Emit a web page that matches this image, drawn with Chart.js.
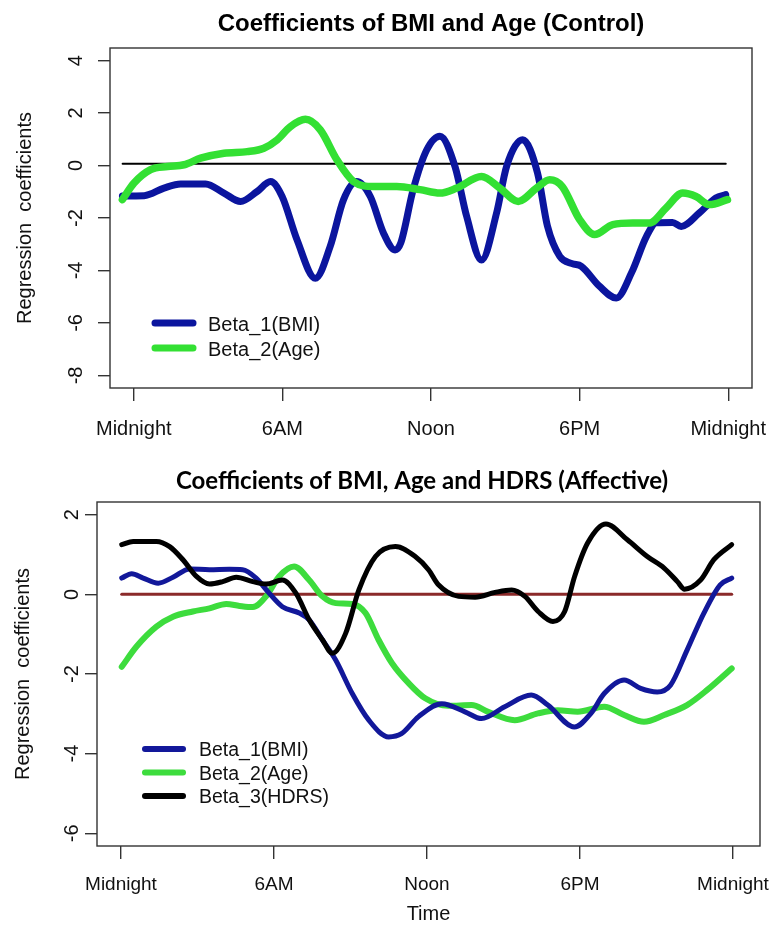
<!DOCTYPE html>
<html><head><meta charset="utf-8">
<script src="https://cdn.jsdelivr.net/npm/chart.js@4.4.1/dist/chart.umd.min.js"></script>
<style>
html,body{margin:0;padding:0;background:#fff;width:769px;height:926px;overflow:hidden}
canvas{position:absolute;left:0}
#c1{top:0}
#c2{top:460px}
</style>
</head><body>
<canvas id="c1" width="769" height="460"></canvas>
<canvas id="c2" width="769" height="466"></canvas>
<script>
// ---------- data ----------
const tickHours = [0, 6, 12, 18, 24];
const tickLabels = ['Midnight', '6AM', 'Noon', '6PM', 'Midnight'];

const ctrlTitle = 'Coefficients of BMI and Age (Control)';
const ctrlYTicks = [-8, -6, -4, -2, 0, 2, 4];
const ctrlLegend = ['Beta_1(BMI)', 'Beta_2(Age)'];

const ctrlBmiHours = [-0.46,0.42,1.22,1.89,2.9,3.64,4.31,4.98,5.52,5.99,6.59,7.33,7.93,8.47,9.0,9.55,10.08,10.55,10.78,11.28,11.83,12.36,12.97,13.44,14.04,14.65,15.05,15.7,16.3,16.7,17.2,17.7,18.07,18.8,19.48,20.1,20.7,21.1,21.75,22.1,22.83,23.5,23.9];
const ctrlBmi      = [-1.16,-1.15,-0.86,-0.70,-0.70,-1.05,-1.37,-0.99,-0.61,-1.18,-2.83,-4.30,-3.08,-1.30,-0.61,-1.18,-2.57,-3.22,-2.95,-0.92,0.60,1.12,-0.04,-1.94,-3.60,-1.80,-0.04,0.98,-0.28,-2.30,-3.46,-3.74,-3.84,-4.60,-5.05,-4.08,-2.70,-2.18,-2.17,-2.32,-1.81,-1.24,-1.11];

const ctrlAgeHours = [-0.46,0.01,0.68,1.36,2.03,2.7,3.64,4.58,5.25,5.79,6.32,6.93,7.53,8.2,8.87,9.68,10.62,11.56,12.36,13.04,14.04,14.78,15.52,16.26,16.79,17.3,18.0,18.6,19.34,20.15,20.82,21.49,22.16,22.7,23.24,23.97];
const ctrlAge      = [-1.30,-0.67,-0.16,-0.04,0.03,0.28,0.47,0.53,0.66,0.98,1.48,1.76,1.36,0.22,-0.61,-0.80,-0.80,-0.92,-1.05,-0.86,-0.42,-0.86,-1.37,-0.86,-0.54,-0.80,-2.06,-2.63,-2.25,-2.19,-2.19,-1.62,-1.05,-1.18,-1.49,-1.30];

const ctrlZeroHours = [-0.45, 23.9];
const ctrlZero      = [0.07, 0.07];

const affTitle = 'Coefficients of BMI, Age and HDRS (Affective)';
const affYTicks = [-6, -4, -2, 0, 2];
const affLegend = ['Beta_1(BMI)', 'Beta_2(Age)', 'Beta_3(HDRS)'];
const affXTitle = 'Time';
const yAxisTitle = 'Regression  coefficients';

const affBmiHours = [0.03,0.42,0.87,1.46,2.04,2.69,3.47,4.25,4.77,5.3,5.81,6.33,6.99,7.38,7.9,8.42,9.07,9.72,10.5,11.0,11.67,12.58,13.49,14.14,15.05,16.09,16.74,17.78,18.43,18.95,19.73,20.38,21.03,21.55,22.2,22.86,23.5,23.95];
const affBmi      = [0.41,0.52,0.41,0.28,0.43,0.64,0.62,0.63,0.62,0.41,0.03,-0.31,-0.47,-0.64,-1.14,-1.65,-2.49,-3.16,-3.58,-3.50,-3.07,-2.75,-2.95,-3.12,-2.82,-2.53,-2.78,-3.33,-2.99,-2.49,-2.15,-2.36,-2.45,-2.28,-1.40,-0.47,0.24,0.41];

const affAgeHours = [0.03,0.61,1.39,2.04,2.82,3.47,4.13,4.65,5.17,5.69,6.2,6.79,7.38,7.9,8.42,9.07,9.59,10.1,10.63,11.28,11.93,12.84,13.75,14.4,15.44,16.35,17.13,17.91,18.95,19.73,20.51,21.3,22.2,22.99,23.95];
const affAge      = [-1.82,-1.31,-0.81,-0.56,-0.43,-0.35,-0.24,-0.29,-0.32,-0.05,0.45,0.70,0.36,-0.05,-0.22,-0.24,-0.47,-1.14,-1.73,-2.23,-2.61,-2.80,-2.78,-2.95,-3.16,-2.99,-2.91,-2.95,-2.82,-3.03,-3.20,-3.03,-2.78,-2.40,-1.86];

const affHdrsHours = [0.03,0.48,1.39,1.91,2.43,2.96,3.47,3.99,4.52,5.17,5.69,6.33,6.86,7.38,7.9,8.29,8.81,9.33,9.98,10.76,11.54,12.06,12.45,13.24,13.89,14.67,15.32,15.84,16.36,16.94,17.4,17.79,18.3,19.02,19.86,20.64,21.3,21.82,22.1,22.73,23.25,23.95];
const affHdrs      = [1.25,1.33,1.33,1.20,0.87,0.45,0.26,0.32,0.43,0.32,0.26,0.36,0.03,-0.64,-1.14,-1.48,-0.98,0.11,0.95,1.20,0.95,0.62,0.24,-0.05,-0.07,0.05,0.11,-0.05,-0.43,-0.68,-0.43,0.45,1.29,1.77,1.37,0.95,0.66,0.32,0.13,0.36,0.87,1.25];

const affZeroHours = [0.03, 23.95];
const affZero      = [0, 0];

// ---------- helpers ----------
const FONT = "'Liberation Sans', Arial, Helvetica, sans-serif";
const pts = (xs, ys) => xs.map((x, i) => ({x: x, y: ys[i]}));

function decorPlugin(cfg) {
  return {
    id: 'decor',
    afterDraw(chart) {
      const ctx = chart.ctx;
      const a = chart.chartArea;
      const ys = chart.scales.y;
      ctx.save();
      // box
      ctx.strokeStyle = '#333';
      ctx.lineWidth = 1.4;
      ctx.strokeRect(a.left, a.top, a.right - a.left, a.bottom - a.top);
      // rotated y tick labels
      ctx.fillStyle = '#111';
      ctx.font = '20px ' + FONT;
      ctx.textAlign = 'center';
      ctx.textBaseline = 'middle';
      cfg.yTicks.forEach(v => {
        const py = ys.getPixelForValue(v);
        ctx.save();
        ctx.translate(a.left - cfg.yLabelGap, py);
        ctx.rotate(-Math.PI / 2);
        ctx.fillText(String(v), 0, 0);
        ctx.restore();
      });
      // title
      ctx.font = cfg.titleFont;
      ctx.fillStyle = '#000';
      ctx.fillText(cfg.title, cfg.titleX != null ? cfg.titleX : (a.left + a.right) / 2, cfg.titleY);
      // legend
      ctx.textAlign = 'left';
      cfg.legend.forEach((lab, i) => {
        const ds = chart.data.datasets[i];
        const y = cfg.legY + i * cfg.legStep;
        ctx.strokeStyle = ds.borderColor;
        ctx.lineWidth = cfg.legLineWidth;
        ctx.lineCap = 'round';
        ctx.beginPath();
        ctx.moveTo(cfg.legX0, y);
        ctx.lineTo(cfg.legX1, y);
        ctx.stroke();
        ctx.fillStyle = '#111';
        ctx.font = cfg.legFont;
        ctx.fillText(lab, cfg.legTextX, y + 2);
      });
      ctx.restore();
    }
  };
}

function makeChart(canvasId, o) {
  return new Chart(document.getElementById(canvasId), {
    type: 'line',
    data: {datasets: o.datasets},
    options: {
      responsive: false,
      animation: false,
      devicePixelRatio: 1,
      layout: {padding: o.padding},
      plugins: {legend: {display: false}, tooltip: {enabled: false}, title: {display: false}},
      elements: {point: {radius: 0}, line: {cubicInterpolationMode: 'monotone', borderCapStyle: 'round', borderJoinStyle: 'round', fill: false}},
      scales: {
        x: {
          type: 'linear', min: o.xMin, max: o.xMax, bounds: 'data',
          afterBuildTicks: s => { s.ticks = tickHours.map(v => ({value: v})); },
          afterFit: s => { s.height = o.xHeight; s.paddingLeft = 0; s.paddingRight = 0; },
          ticks: {autoSkip: false, maxRotation: 0, minRotation: 0, padding: o.xPad, color: '#111',
                  font: {family: FONT, size: o.xFont}, callback: (v, i) => tickLabels[i]},
          grid: {drawOnChartArea: false, drawTicks: true, tickLength: 13, color: '#333', lineWidth: 1.4},
          border: {display: false},
          title: {display: !!o.xTitle, text: o.xTitle || '', color: '#111', font: {family: FONT, size: 20}, padding: {top: 0, bottom: 0}}
        },
        y: {
          type: 'linear', min: o.yMin, max: o.yMax, bounds: 'data',
          afterBuildTicks: s => { s.ticks = o.yTicks.map(v => ({value: v})); },
          afterFit: s => { s.width = o.yWidth; s.paddingTop = 0; s.paddingBottom = 0; },
          ticks: {display: false},
          grid: {drawOnChartArea: false, drawTicks: true, tickLength: 12, color: '#333', lineWidth: 1.4},
          border: {display: false},
          title: {display: true, text: yAxisTitle, color: '#111', font: {family: FONT, size: 20}, padding: {top: o.yTitlePad, bottom: 0}}
        }
      }
    },
    plugins: [decorPlugin(o.decor)]
  });
}

// ---------- top chart (Control) ----------
makeChart('c1', {
  datasets: [
    {data: pts(ctrlBmiHours, ctrlBmi), borderColor: '#0b159e', borderWidth: 7, order: 2},
    {data: pts(ctrlAgeHours, ctrlAge), borderColor: '#33e033', borderWidth: 7.5, order: 1},
    {data: pts(ctrlZeroHours, ctrlZero), borderColor: '#000000', borderWidth: 2, order: 3, cubicInterpolationMode: 'default', tension: 0}
  ],
  padding: {top: 48, left: 0, right: 17, bottom: 0},
  xMin: -0.96, xMax: 24.96,
  xHeight: 72, xPad: 16, xFont: 20, yWidth: 110, yMin: -8.48, yMax: 4.48, yTicks: ctrlYTicks, yTitlePad: 13,
  decor: {
    title: ctrlTitle, titleFont: 'bold 24px ' + FONT, titleY: 24,
    yTicks: ctrlYTicks, yLabelGap: 34,
    legend: ctrlLegend, legY: 323, legStep: 25, legX0: 155, legX1: 193, legTextX: 208,
    legLineWidth: 7, legFont: '20px ' + FONT
  }
});

// ---------- bottom chart (Affective) ----------
makeChart('c2', {
  datasets: [
    {data: pts(affBmiHours, affBmi), borderColor: '#12189a', borderWidth: 5, order: 2},
    {data: pts(affAgeHours, affAge), borderColor: '#3ddc3d', borderWidth: 6, order: 3},
    {data: pts(affHdrsHours, affHdrs), borderColor: '#000000', borderWidth: 5, order: 1},
    {data: pts(affZeroHours, affZero), borderColor: '#8b2a2a', borderWidth: 3, order: 4, cubicInterpolationMode: 'default', tension: 0}
  ],
  xTitle: affXTitle,
  padding: {top: 42, left: 0, right: 9, bottom: 0},
  xMin: -0.94, xMax: 25.06,
  xHeight: 80, xPad: 14, xFont: 19, yWidth: 97, yMin: -6.32, yMax: 2.32, yTicks: affYTicks, yTitlePad: 11,
  decor: {
    title: affTitle, titleFont: 'bold 24px Lato, ' + FONT, titleY: 21, titleX: 422,
    yTicks: affYTicks, yLabelGap: 25,
    legend: affLegend, legY: 289, legStep: 23.5, legX0: 145, legX1: 183, legTextX: 199,
    legLineWidth: 6, legFont: '19.5px ' + FONT
  }
});
</script>
</body></html>
